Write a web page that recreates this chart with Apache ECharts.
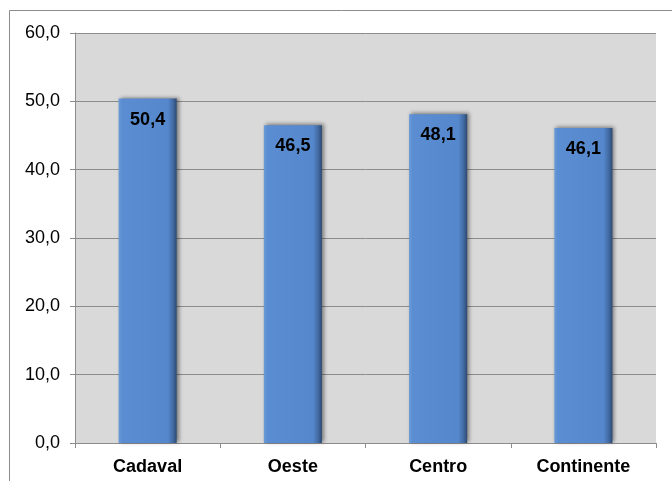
<!DOCTYPE html>
<html>
<head>
<meta charset="utf-8">
<style>
  html, body { margin: 0; padding: 0; background: #ffffff; }
  #chart { width: 672px; height: 481px; }
</style>
<script src="https://cdn.jsdelivr.net/npm/echarts@6/dist/echarts.min.js"></script>
</head>
<body>
<div id="chart"></div>
<script>
// Regions and their values
const categories = ['Cadaval', 'Oeste', 'Centro', 'Continente'];
const values = [50.4, 46.5, 48.1, 46.1];
const yTicks = { min: 0, max: 60, interval: 10 };

const fmt = v => Number(v).toFixed(1).replace('.', ',');
const FONT = 'Liberation Sans, Arial, sans-serif';

const chart = echarts.init(document.getElementById('chart'), null, { renderer: 'canvas' });

const barFill = new echarts.graphic.LinearGradient(0, 0, 1, 0, [
  { offset: 0, color: '#6c9bd8' },
  { offset: 0.06, color: '#5a8dd1' },
  { offset: 0.85, color: '#5487cb' },
  { offset: 0.94, color: '#4168a0' },
  { offset: 1, color: '#2c4a72' }
]);

chart.setOption({
  animation: false,
  backgroundColor: '#ffffff',
  graphic: [{
    type: 'rect',
    shape: { x: 9.5, y: 10.5, width: 700, height: 520 },
    style: { fill: 'none', stroke: '#8c8c8c', lineWidth: 1 },
    silent: true
  }],
  grid: {
    left: 75, right: 16, top: 33, bottom: 38,
    show: true, backgroundColor: '#d9d9d9', borderWidth: 0
  },
  xAxis: {
    type: 'category',
    data: categories,
    axisLine: { lineStyle: { color: '#8c8c8c', width: 1 } },
    axisTick: { show: true, length: 5, lineStyle: { color: '#8c8c8c' } },
    axisLabel: {
      margin: 15,
      color: '#000000',
      fontFamily: FONT,
      fontWeight: 'bold',
      fontSize: 18
    }
  },
  yAxis: {
    type: 'value',
    min: yTicks.min, max: yTicks.max, interval: yTicks.interval,
    axisLine: { show: true, lineStyle: { color: '#8c8c8c', width: 1 } },
    axisTick: { show: true, length: 5, lineStyle: { color: '#8c8c8c' } },
    splitLine: { lineStyle: { color: '#8c8c8c', width: 1 } },
    axisLabel: {
      margin: 15,
      color: '#000000',
      fontFamily: FONT,
      fontSize: 18,
      formatter: v => fmt(v)
    }
  },
  series: [{
    type: 'bar',
    data: values,
    barWidth: '40%',
    itemStyle: {
      color: barFill,
      shadowColor: 'rgba(0,0,0,0.45)',
      shadowBlur: 4,
      shadowOffsetX: 2,
      shadowOffsetY: -1
    },
    label: {
      show: true,
      position: 'insideTop',
      distance: 12,
      color: '#000000',
      fontFamily: FONT,
      fontWeight: 'bold',
      fontSize: 18,
      formatter: p => fmt(p.value)
    }
  }]
});
</script>
</body>
</html>
